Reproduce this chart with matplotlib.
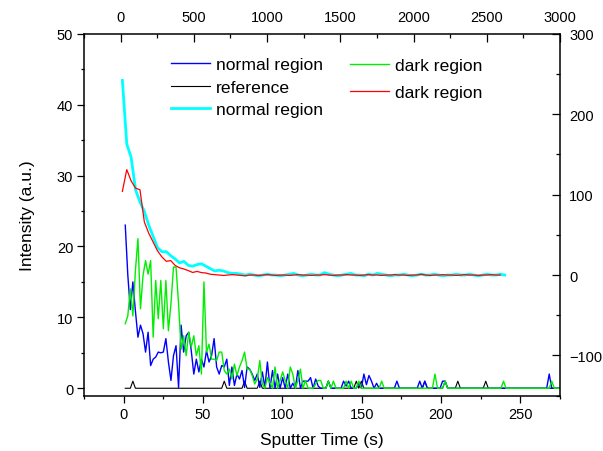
import numpy as np
import matplotlib
matplotlib.use('Agg')
import matplotlib.pyplot as plt
from matplotlib.ticker import MultipleLocator

plt.rcParams['font.family'] = ['Liberation Sans', 'DejaVu Sans']

# ---------------- data (bottom / left axes) ----------------
t_start, t_step = 1.0, 1.6   # sputter time sampling (s)

normal_region = [
    23, 16, 11.1, 15.0, 10.9, 7.2, 8.9, 7.7, 5.1, 7.9,
    3.2, 4.1, 4.4, 5.1, 5.0, 5.1, 7.0, 3.7, 1.1, 4.6,
    6.0, 0.1, 8.9, 5.1, 7.4, 7.9, 5.3, 2.0, 4.1, 2.3,
    4.1, 3.0, 5.3, 3.7, 4.6, 7.0, 3.0, 2.0, 3.2, 3.0,
    4.1, 0.4, 3.0, 0.4, 2.0, 1.3, 2.5, 0.1, 3.0, 2.7,
    2.0, 1.1, 2.0, 0.1, 2.3, 0.1, 3.7, 0, 2.5, 0,
    2.0, 0, 1.5, 0, 2.0, 0, 0.7, 0, 2.5, 0,
    1.0, 1.0, 1.0, 1.5, 0, 1.3, 0.3, 0, 0, 0,
    1.0, 0, 0, 0, 0, 0, 1.0, 0.3, 1.0, 0,
    0, 0, 0.7, 0, 2.0, 0.5, 1.8, 1.0, 0, 0.7,
    0, 0, 0, 0, 0, 0, 0, 1.0, 0, 0,
    0, 0, 0, 0, 0, 0, 1.0, 0, 1.0, 0,
    0, 0, 0, 0, 0, 1.0, 1.0, 0, 0, 0,
    0, 0, 0, 0, 0, 0, 0, 0, 0, 0,
    0, 0, 0, 0, 0, 0, 0, 0, 0, 0,
    0, 0, 0, 0, 0, 0, 0, 0, 0, 0,
    0, 0, 0, 0, 0, 0, 0, 2.0, 0, 0,
    0, 0,
]

dark_region = [
    9.1, 10.2, 14.0, 10.2, 16.6, 21.1, 11.2, 15.9, 18.0, 16.1,
    18.0, 7.2, 15.2, 9.8, 15.2, 8.4, 15.2, 8.1, 11.9, 17.1,
    17.1, 11.9, 5.5, 7.4, 4.6, 7.9, 5.8, 7.4, 4.6, 6.0,
    2.0, 15.0, 5.1, 6.2, 4.1, 4.1, 3.9, 5.1, 5.1, 2.5,
    2.0, 2.7, 1.3, 3.4, 1.8, 3.0, 3.9, 5.1, 2.7, 2.7,
    1.8, 0.6, 1.3, 3.9, 0.6, 0, 1.5, 0.8, 0, 3.0,
    0, 1.1, 2.3, 1.1, 0, 3.0, 2.0, 0, 1.1, 2.7,
    0, 1.1, 0, 0, 0, 0.6, 1.1, 1.1, 0, 0,
    1.0, 0, 1.0, 0, 0, 0, 0, 1.0, 0, 1.0,
    0, 0, 1.0, 0, 0, 0, 0, 0, 0, 0,
    0, 1.0, 0, 0, 0, 0, 0, 0, 0, 0,
    0, 0, 0, 0, 0, 0, 0, 0, 0, 0,
    0, 0, 2.0, 0, 0, 0, 1.0, 0, 0, 0,
    0, 0, 0, 0, 0, 0, 0, 0, 0, 0,
    0, 0, 0, 0, 0, 0, 0, 0, 0, 1.0,
    0, 0, 0, 0, 0, 0, 0, 0, 0, 0,
    0, 0, 0, 0, 0, 0, 0, 0, 1.0, 0,
    0, 0,
]

reference = [
    0, 0, 0, 1, 0, 0, 0, 0, 0, 0,
    0, 0, 0, 0, 0, 0, 0, 0, 0, 0,
    0, 0, 0, 0, 0, 0, 0, 0, 0, 0,
    0, 0, 0, 0, 0, 0, 0, 0, 0, 1,
    0, 0, 0, 0, 0, 0, 0, 1, 0, 0,
    0, 0, 0, 1, 0, 0, 0, 0, 0, 0,
    0, 0, 0, 0, 0, 0, 0, 0, 0, 0,
    0, 0, 0, 0, 0, 0, 0, 0, 0, 0,
    1, 0, 0, 0, 0, 0, 0, 0, 0, 0,
    0, 1, 0, 1, 0, 0, 0, 0, 0, 0,
    0, 0, 0, 0, 0, 0, 0, 0, 0, 0,
    0, 0, 0, 0, 0, 0, 0, 0, 1, 0,
    0, 0, 0, 0, 0, 0, 1, 0, 0, 0,
    0, 1, 0, 0, 0, 0, 0, 0, 0, 0,
    0, 0, 1, 0, 0, 0, 0, 0, 0, 0,
    0, 0, 0, 0, 0, 0, 0, 0, 0, 0,
    0, 0, 0, 0, 0, 0, 0, 0, 0, 0,
    0, 0,
]

# ---------------- data (top / right axes) ----------------
T_start, T_step = 12.0, 30.0

normal_region_2 = [
    242, 163, 146, 106, 91, 79, 62, 48, 34, 29,
    29, 24, 20, 15, 17, 12, 11, 13, 14, 11,
    8, 5, 6, 5, 3, 2, 2, 1,
    0, 1, 0, -1, 0, 1, 0, 0, -1, 0,
    1, 2, 0, -1, 0, 1, 0, 0, 3, 1,
    0, -1, 0, 1, 2, 0, 0, -1, 1, 0,
    2, 1, 0, -1, 0, 0, 1, 0, -1, 0,
    1, 0, 0, 1, 0, -1, 0, 0, 1, 0,
    0, 1, 0, -1, 0, 1, 0, 0, 1, 0,
]

dark_region_2 = [
    104, 131, 117, 108, 106, 66, 52, 41, 30, 22.5,
    17, 18, 12, 9, 7.5, 5.5, 3.2, 4.5, 3, 2.5,
    1, 0.5,
    0, -0.5, 0, 0.5, 0, -0.5, -1, 0, 0, -0.5,
    0, 0.5, 0, -0.5, 0, 0, -0.5, 0, 0.5, 0,
    0, -0.5, 0, 0, 0.5, 0, -0.5, 0, 0, 0.5,
    0, 0, -0.5, 0, 0.5, 0, 0, -0.5, 0, 0,
    0.5, 0, 0, -0.5, 0, 0, 1, 0, -0.5, 0,
    0, 0.5, 0, 0, -0.5, 0, 0.5, 0, 0, -0.5,
    0, 0, 0.5, 0, 0,
]

t1 = t_start + t_step * np.arange(len(normal_region))
T_cyan = T_start + T_step * np.arange(len(normal_region_2))
T_red = T_start + T_step * np.arange(len(dark_region_2))

# ---------------- figure ----------------
W, H = 603, 452
fig = plt.figure(figsize=(W / 100, H / 100), dpi=100)
L, R, TOP, BOT = 84, 560, 34.7, 396.7
rect = [L / W, 1 - BOT / H, (R - L) / W, (BOT - TOP) / H]

ax = fig.add_axes(rect)
ax2 = fig.add_axes(rect, label='top')
ax2.patch.set_visible(False)

h_black, = ax.plot(t1, reference, color='black', lw=0.8)
h_blue, = ax.plot(t1, normal_region, color='#0000ff', lw=1.0)
h_green, = ax.plot(t1, dark_region, color='#00ee00', lw=1.0)

h_cyan, = ax2.plot(T_cyan, normal_region_2, color='#00ffff', lw=2.0)
h_red, = ax2.plot(T_red, dark_region_2, color='#ff0000', lw=0.9)

ax.set_xlim(-25, 275)
ax.set_ylim(-1.05, 50)
ax2.set_xlim(-250, 3000)
ax2.set_ylim(-150, 300)

ax.xaxis.set_major_locator(MultipleLocator(50))
ax.xaxis.set_minor_locator(MultipleLocator(25))
ax.yaxis.set_major_locator(MultipleLocator(10))
ax.yaxis.set_minor_locator(MultipleLocator(5))
ax2.xaxis.set_major_locator(MultipleLocator(500))
ax2.xaxis.set_minor_locator(MultipleLocator(250))
ax2.yaxis.set_major_locator(MultipleLocator(100))
ax2.yaxis.set_minor_locator(MultipleLocator(50))

ax2.xaxis.tick_top()
ax2.yaxis.tick_right()

for s in ['top', 'right']:
    ax.spines[s].set_visible(False)
for s in ['bottom', 'left']:
    ax2.spines[s].set_visible(False)
for a in (ax, ax2):
    for s in a.spines.values():
        s.set_linewidth(1.1)

ax.tick_params(which='both', direction='out', width=0.9, labelsize=10.5)
ax.tick_params(which='major', length=4.8)
ax.tick_params(which='minor', length=2.4)
ax.tick_params(axis='y', pad=2.9)
ax.tick_params(axis='x', pad=3.6)

ax2.tick_params(which='both', direction='in', width=0.9, labelsize=10.5)
ax2.tick_params(which='major', length=5.8)
ax2.tick_params(which='minor', length=2.9)
ax2.tick_params(axis='x', pad=7)
ax2.tick_params(axis='y', pad=6.5)

ax.set_xlabel('Sputter Time (s)', fontsize=12.5, labelpad=8)
ax.set_ylabel('Intensity (a.u.)', fontsize=12.5, labelpad=16)

leg1 = ax2.legend([h_blue, h_black, h_cyan],
                  ['normal region', 'reference', 'normal region'],
                  loc='upper left', bbox_to_anchor=(171 / W, 1 - 58 / H),
                  bbox_transform=fig.transFigure, frameon=False,
                  fontsize=12.6, handlelength=2.2, handletextpad=0.35,
                  labelspacing=0.41, borderpad=0, borderaxespad=0)
ax2.add_artist(leg1)
leg2 = ax2.legend([h_green, h_red], ['dark region', 'dark region'],
                  loc='upper left', bbox_to_anchor=(350 / W, 1 - 59 / H),
                  bbox_transform=fig.transFigure, frameon=False,
                  fontsize=12.6, handlelength=2.2, handletextpad=0.35,
                  labelspacing=0.67, borderpad=0, borderaxespad=0)

fig.savefig('out.png', dpi=100)
